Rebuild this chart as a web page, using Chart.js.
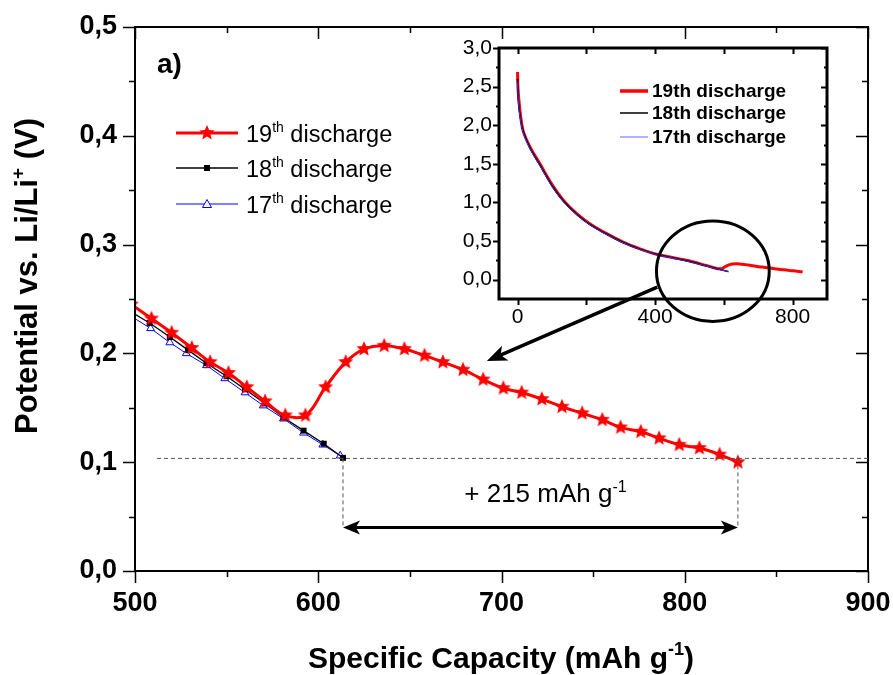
<!DOCTYPE html>
<html>
<head>
<meta charset="utf-8">
<script src="https://cdn.jsdelivr.net/npm/chart.js@4.4.0/dist/chart.umd.min.js"></script>
<style>
  body { margin: 0; background: #fff; }
  #wrap { position: relative; width: 893px; height: 675px; }
  #mainChart { position: absolute; left: 0; top: 0; }
  #insetChart { position: absolute; left: 440px; top: 0; }
</style>
</head>
<body>
<div id="wrap">
  <canvas id="mainChart" width="893" height="675"></canvas>
  <canvas id="insetChart" width="453" height="340"></canvas>
</div>
<script>
// main plot: end of the discharge (mAh/g, V)
const cap19 = [498, 509, 520, 531, 541, 551, 561, 571, 582, 593, 604, 615, 625, 636, 647, 658,
               668, 679, 690, 701, 711, 722, 733, 744, 755, 765, 776, 786, 797, 808, 819, 829];
const pot19 = [0.245, 0.232, 0.219, 0.205, 0.192, 0.182, 0.169, 0.156, 0.143, 0.143, 0.169, 0.192,
               0.204, 0.207, 0.204, 0.198, 0.192, 0.185, 0.176, 0.168, 0.164, 0.158, 0.151, 0.145,
               0.139, 0.132, 0.128, 0.122, 0.116, 0.113, 0.107, 0.100];
const cap18 = [498, 508, 519, 529, 539, 550, 560, 571, 581, 592, 603, 613.5];
const pot18 = [0.238, 0.228, 0.215, 0.203, 0.191, 0.179, 0.167, 0.154, 0.141, 0.129, 0.117, 0.104];
const cap17 = [498, 508.5, 519, 528, 539, 549, 560, 570, 581, 592, 602.5, 612];
const pot17 = [0.234, 0.223, 0.210, 0.200, 0.189, 0.177, 0.164, 0.152, 0.140, 0.127, 0.116, 0.106];

// inset: start of the discharge, the rest comes from the arrays above
const insetCap19 = [0, 1, 3, 8, 16, 36, 65, 99, 133, 172, 210, 259, 307, 356, 404, 453];
const insetPot19 = [2.69, 2.5, 2.37, 2.15, 1.93, 1.72, 1.5, 1.24, 1.03, 0.855, 0.725, 0.596, 0.487, 0.40, 0.33, 0.285];
const insetCap18 = [0, 2, 5, 10, 18, 38, 67, 101, 135, 174, 212, 261, 309, 358, 406, 455];
const insetPot18 = [2.60, 2.35, 2.2, 2.05, 1.9, 1.69, 1.47, 1.21, 1.01, 0.84, 0.71, 0.585, 0.478, 0.392, 0.325, 0.28];
const insetCap17 = [0, 2, 5, 10, 18, 38, 67, 101, 135, 174, 212, 261, 309, 358, 406, 455];
const insetPot17 = [2.56, 2.33, 2.18, 2.03, 1.88, 1.68, 1.46, 1.20, 1.0, 0.835, 0.705, 0.58, 0.474, 0.388, 0.322, 0.276];

const seriesNames = ['19', '18', '17'];
const xTicks = [500, 600, 700, 800, 900];
const yTicks = [0, 0.1, 0.2, 0.3, 0.4, 0.5];
const insetXTicks = [0, 400, 800];
const insetYTicks = [0, 0.5, 1.0, 1.5, 2.0, 2.5, 3.0];

// gap marked by the dashed lines / double arrow
const endLevel = 0.1035;
const gapFrom = 613.5, gapTo = 829, gapY = 0.04;

Chart.defaults.font.family = '"Liberation Sans", Arial, sans-serif';
Chart.defaults.color = '#000';

const FONT = '"Liberation Sans", Arial, sans-serif';

function pts(xs, ys) {
  return xs.map((x, i) => ({ x: x, y: ys[i] }));
}

function makeStar(r, color) {
  const c = document.createElement('canvas');
  c.width = c.height = 2 * r + 2;
  const g = c.getContext('2d');
  g.fillStyle = color;
  g.beginPath();
  for (let i = 0; i < 10; i++) {
    const rr = i % 2 ? r * 0.45 : r;
    const ang = -Math.PI / 2 + i * Math.PI / 5;
    g.lineTo(r + 1 + rr * Math.cos(ang), r + 1 + rr * Math.sin(ang));
  }
  g.closePath();
  g.fill();
  return c;
}
const star = makeStar(8, '#ff0000');

function fmt(v) {
  return v.toFixed(1).replace('.', ',');
}

// text with superscript parts: [[text, isSup], ...]
function supText(ctx, parts, x, y, size, weight, align) {
  const supSize = Math.round(size * 0.6);
  let w = 0;
  parts.forEach(p => {
    ctx.font = weight + ' ' + (p[1] ? supSize : size) + 'px ' + FONT;
    w += ctx.measureText(p[0]).width;
  });
  let cx = align === 'center' ? x - w / 2 : x;
  ctx.textAlign = 'left';
  ctx.textBaseline = 'alphabetic';
  parts.forEach(p => {
    ctx.font = weight + ' ' + (p[1] ? supSize : size) + 'px ' + FONT;
    ctx.fillText(p[0], cx, p[1] ? y - size * 0.42 : y);
    cx += ctx.measureText(p[0]).width;
  });
}

function arrowHead(ctx, x0, y0, x1, y1, len, half) {
  const a = Math.atan2(y1 - y0, x1 - x0);
  const c = Math.cos(a), s = Math.sin(a);
  ctx.beginPath();
  ctx.moveTo(x1, y1);
  ctx.lineTo(x1 - len * c + half * s, y1 - len * s - half * c);
  ctx.lineTo(x1 - len * 0.75 * c, y1 - len * 0.75 * s);
  ctx.lineTo(x1 - len * c - half * s, y1 - len * s + half * c);
  ctx.closePath();
  ctx.fill();
}

function isMult(v, step) {
  return Math.abs(v / step - Math.round(v / step)) < 1e-6;
}

function drawFrame(chart, o) {
  const ctx = chart.ctx, a = chart.chartArea;
  const xs = chart.scales.x, ys = chart.scales.y;
  ctx.save();
  ctx.strokeStyle = '#000';
  ctx.lineWidth = o.tickWidth;
  ctx.beginPath();
  for (let v = o.xFrom; v <= xs.max + 1e-9; v += o.xMinor) {
    const len = isMult(v, o.xMajor) ? o.majorLen : o.minorLen;
    const px = Math.round(xs.getPixelForValue(v)) + 0.5;
    ctx.moveTo(px, a.bottom); ctx.lineTo(px, a.bottom + len);
    ctx.moveTo(px, a.top); ctx.lineTo(px, a.top + len);
  }
  for (let v = o.yFrom; v <= ys.max + 1e-9; v += o.yMinor) {
    const len = isMult(v, o.yMajor) ? o.majorLen : o.minorLen;
    const py = Math.round(ys.getPixelForValue(v)) + 0.5;
    ctx.moveTo(a.left, py); ctx.lineTo(a.left - len, py);
    ctx.moveTo(a.right, py); ctx.lineTo(a.right - len, py);
  }
  ctx.stroke();
  ctx.lineWidth = o.frameWidth;
  ctx.strokeRect(a.left, a.top, a.right - a.left, a.bottom - a.top);
  ctx.restore();
}

function drawMarker(ctx, kind, x, y) {
  if (kind === 'star') {
    ctx.drawImage(star, x - star.width / 2, y - star.height / 2);
  } else if (kind === 'rect') {
    ctx.fillStyle = '#000';
    ctx.fillRect(x - 3, y - 3, 6, 6);
  } else {
    ctx.fillStyle = '#fff';
    ctx.strokeStyle = '#0000ff';
    ctx.lineWidth = 1;
    ctx.beginPath();
    ctx.moveTo(x, y - 4.5); ctx.lineTo(x + 4.5, y + 3.5); ctx.lineTo(x - 4.5, y + 3.5);
    ctx.closePath(); ctx.fill(); ctx.stroke();
  }
}

const mainDecor = {
  id: 'mainDecor',
  afterDraw(chart) {
    const ctx = chart.ctx, xs = chart.scales.x, ys = chart.scales.y, a = chart.chartArea;
    drawFrame(chart, { xFrom: 500, xMinor: 50, xMajor: 100, yFrom: 0, yMinor: 0.05, yMajor: 0.1,
                       majorLen: 12, minorLen: 6, tickWidth: 1.5, frameWidth: 2 });
    ctx.save();
    // dashed guide lines
    ctx.strokeStyle = '#555';
    ctx.lineWidth = 1;
    ctx.setLineDash([4, 3]);
    const yEnd = ys.getPixelForValue(endLevel);
    const yArr = ys.getPixelForValue(gapY);
    const x0 = xs.getPixelForValue(gapFrom), x1 = xs.getPixelForValue(gapTo);
    ctx.beginPath();
    ctx.moveTo(xs.getPixelForValue(512), yEnd); ctx.lineTo(a.right, yEnd);
    ctx.moveTo(x0, yEnd); ctx.lineTo(x0, yArr);
    ctx.moveTo(x1, yEnd); ctx.lineTo(x1, yArr);
    ctx.stroke();
    ctx.setLineDash([]);
    // double arrow
    ctx.strokeStyle = '#000';
    ctx.fillStyle = '#000';
    ctx.lineWidth = 3;
    ctx.beginPath();
    ctx.moveTo(x0 + 10, yArr); ctx.lineTo(x1 - 10, yArr);
    ctx.stroke();
    arrowHead(ctx, x1, yArr, x0, yArr, 17, 7);
    arrowHead(ctx, x0, yArr, x1, yArr, 17, 7);
    ctx.fillStyle = '#000';
    supText(ctx, [['+ 215 mAh g', false], ['-1', true]], xs.getPixelForValue(724), ys.getPixelForValue(0.063), 26, 'normal', 'center');
    // arrow from the inset circle
    const sx = xs.getPixelForValue(785), sy = ys.getPixelForValue(0.261);
    const ex = xs.getPixelForValue(692), ey = ys.getPixelForValue(0.193);
    ctx.lineWidth = 3.5;
    ctx.beginPath();
    ctx.moveTo(sx, sy);
    ctx.lineTo(ex + (sx - ex) * 0.08, ey + (sy - ey) * 0.08);
    ctx.stroke();
    arrowHead(ctx, sx, sy, ex, ey, 20, 8);
    // panel label
    ctx.font = 'bold 28px ' + FONT;
    ctx.textAlign = 'left';
    ctx.textBaseline = 'alphabetic';
    ctx.fillText('a)', 157, 73);
    // legend
    const rows = [
      { color: '#ff0000', width: 3, marker: 'star', y: 133 },
      { color: '#000', width: 1.3, marker: 'rect', y: 168 },
      { color: '#0000ff', width: 1, marker: 'tri', y: 204 }
    ];
    rows.forEach((r, i) => {
      ctx.strokeStyle = r.color;
      ctx.lineWidth = r.width;
      ctx.beginPath();
      ctx.moveTo(176, r.y); ctx.lineTo(238, r.y);
      ctx.stroke();
      drawMarker(ctx, r.marker, 207, r.y);
      ctx.fillStyle = '#000';
      supText(ctx, [[seriesNames[i], false], ['th', true], [' discharge', false]], 246, r.y + 9, 23.5, 'normal', 'left');
    });
    // axis titles
    ctx.fillStyle = '#000';
    supText(ctx, [['Specific Capacity (mAh g', false], ['-1', true], [')', false]], 501, 668, 30, 'bold', 'center');
    ctx.translate(37, 276);
    ctx.rotate(-Math.PI / 2);
    supText(ctx, [['Potential vs. Li/Li', false], ['+', true], [' (V)', false]], 0, 0, 31, 'bold', 'center');
    ctx.restore();
  }
};

// keep the chart area exactly where the layout padding puts it
function noOverflowX(h) {
  return s => { s.height = h; s.paddingLeft = 0; s.paddingRight = 0; };
}
function noOverflowY(w) {
  return s => { s.width = w; s.paddingTop = 0; s.paddingBottom = 0; };
}

new Chart(document.getElementById('mainChart'), {
  type: 'line',
  data: {
    datasets: [
      { label: '19th discharge', data: pts(cap19, pot19), borderColor: '#ff0000', borderWidth: 3,
        pointStyle: star, tension: 0.4, clip: 0, order: 0 },
      { label: '18th discharge', data: pts(cap18, pot18), borderColor: '#000', borderWidth: 1.3,
        pointStyle: 'rect', pointRadius: 4.2, backgroundColor: '#000', pointBorderWidth: 0, clip: 0, order: 1 },
      { label: '17th discharge', data: pts(cap17, pot17), borderColor: '#0000ff', borderWidth: 1,
        pointStyle: 'triangle', pointRadius: 4.5, pointBackgroundColor: '#fff', pointBorderWidth: 1, clip: 0, order: 2 }
    ]
  },
  options: {
    responsive: false,
    animation: false,
    events: [],
    layout: { padding: { top: 27, right: 25, left: 0, bottom: 0 } },
    plugins: { legend: { display: false }, tooltip: { enabled: false } },
    scales: {
      x: {
        type: 'linear', min: 500, max: 900,
        grid: { display: false, drawTicks: false },
        border: { display: false },
        afterBuildTicks: s => { s.ticks = xTicks.map(v => ({ value: v })); },
        afterFit: noOverflowX(104),
        ticks: { padding: 16, font: { size: 27, weight: 'bold' }, maxRotation: 0 }
      },
      y: {
        min: 0, max: 0.5,
        grid: { display: false, drawTicks: false },
        border: { display: false },
        afterBuildTicks: s => { s.ticks = yTicks.map(v => ({ value: v })); },
        afterFit: noOverflowY(135),
        ticks: { padding: 18, font: { size: 27, weight: 'bold' }, callback: v => fmt(v) }
      }
    }
  },
  plugins: [mainDecor]
});

const insetDecor = {
  id: 'insetDecor',
  afterDraw(chart) {
    const ctx = chart.ctx, xs = chart.scales.x, ys = chart.scales.y;
    drawFrame(chart, { xFrom: 0, xMinor: 200, xMajor: 200, yFrom: 0, yMinor: 0.25, yMajor: 0.5,
                       majorLen: 6, minorLen: 3, tickWidth: 2, frameWidth: 3 });
    ctx.save();
    // circle around the capacity gain
    ctx.strokeStyle = '#000';
    ctx.lineWidth = 3;
    const cx = xs.getPixelForValue(568), cy = ys.getPixelForValue(0.11);
    const rx = xs.getPixelForValue(568 + 164) - cx, ry = cy - ys.getPixelForValue(0.11 + 0.65);
    ctx.beginPath();
    ctx.ellipse(cx, cy, rx, ry, 0, 0, Math.PI * 2);
    ctx.stroke();
    // legend
    const rows = [
      { color: '#ff0000', width: 3.5, y: 91 },
      { color: '#000', width: 1.5, y: 113 },
      { color: '#6666ff', width: 1, y: 137 }
    ];
    rows.forEach((r, i) => {
      ctx.strokeStyle = r.color;
      ctx.lineWidth = r.width;
      ctx.beginPath();
      ctx.moveTo(180, r.y); ctx.lineTo(208, r.y);
      ctx.stroke();
      ctx.fillStyle = '#000';
      ctx.font = 'bold 19px ' + FONT;
      ctx.textAlign = 'left';
      ctx.textBaseline = 'alphabetic';
      ctx.fillText(seriesNames[i] + 'th discharge', 212, r.y + 6);
    });
    ctx.restore();
  }
};

new Chart(document.getElementById('insetChart'), {
  type: 'line',
  data: {
    datasets: [
      { label: '19th discharge', data: pts(insetCap19.concat(cap19), insetPot19.concat(pot19)),
        borderColor: '#ff0000', borderWidth: 3, pointRadius: 0, tension: 0.3, order: 3 },
      { label: '18th discharge', data: pts(insetCap18.concat(cap18), insetPot18.concat(pot18)),
        borderColor: '#000', borderWidth: 1.5, pointRadius: 0, tension: 0.3, order: 2 },
      { label: '17th discharge', data: pts(insetCap17.concat(cap17), insetPot17.concat(pot17)),
        borderColor: '#3333ff', borderWidth: 1, pointRadius: 0, tension: 0.3, order: 1 }
    ]
  },
  options: {
    responsive: false,
    animation: false,
    events: [],
    layout: { padding: { top: 48, right: 66, left: 0, bottom: 0 } },
    plugins: { legend: { display: false }, tooltip: { enabled: false } },
    scales: {
      x: {
        type: 'linear', min: -54, max: 900,
        grid: { display: false, drawTicks: false },
        border: { display: false },
        afterBuildTicks: s => { s.ticks = insetXTicks.map(v => ({ value: v })); },
        afterFit: noOverflowX(41),
        ticks: { padding: 6, font: { size: 21 }, maxRotation: 0 }
      },
      y: {
        min: -0.25, max: 3.0,
        grid: { display: false, drawTicks: false },
        border: { display: false },
        afterBuildTicks: s => { s.ticks = insetYTicks.map(v => ({ value: v })); },
        afterFit: noOverflowY(59),
        ticks: { padding: 7, font: { size: 21 }, callback: v => fmt(v) }
      }
    }
  },
  plugins: [insetDecor]
});
</script>
</body>
</html>
